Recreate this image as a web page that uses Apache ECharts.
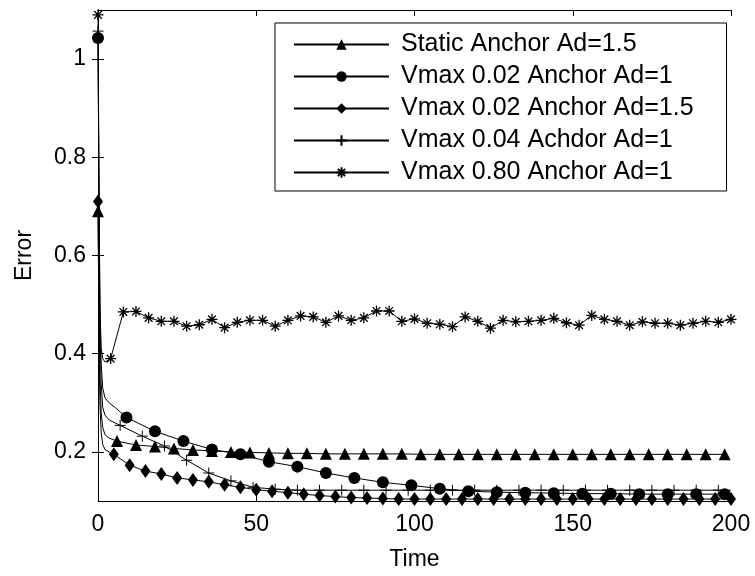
<!DOCTYPE html>
<html><head><meta charset="utf-8">
<script src="https://cdn.jsdelivr.net/npm/echarts@6/dist/echarts.min.js"></script>
<style>html,body{margin:0;padding:0;background:#fff}#c{width:755px;height:576px}</style>
</head><body><div id="c"></div>
<script>
const seriesNames = ['Static Anchor Ad=1.5','Vmax 0.02 Anchor Ad=1','Vmax 0.02 Anchor Ad=1.5','Vmax 0.04 Achdor Ad=1','Vmax 0.80 Anchor Ad=1'];
const xTicks = [0,50,100,150,200];
const yTicks = [0.2,0.4,0.6,0.8,1];

// Static Anchor Ad=1.5 (triangles)
const staticMarkT = [0,6,12,18,24,30,36,42,48,54,60,66,72,78,84,90,96,102,108,114,120,126,132,138,144,150,156,162,168,174,180,186,192,198];
const staticMarkV = [0.69,0.222,0.214,0.211,0.207,0.204,0.202,0.200,0.199,0.198,0.197,0.197,0.196,0.196,0.196,0.196,0.196,0.195,0.195,0.195,0.195,0.195,0.195,0.195,0.195,0.195,0.195,0.195,0.195,0.195,0.195,0.195,0.195,0.195];
const staticDropT = [0.3,0.6,1,1.5,2.2,3.5];
const staticDropV = [0.5,0.36,0.28,0.25,0.235,0.228];

// Vmax 0.02 Anchor Ad=1 (circles)
const v002a1MarkT = [0,9,18,27,36,45,54,63,72,81,90,99,108,117,126,135,144,153,162,171,180,189,198];
const v002a1MarkV = [1.043,0.27,0.242,0.222,0.205,0.195,0.18,0.17,0.157,0.147,0.138,0.132,0.125,0.12,0.118,0.117,0.116,0.115,0.115,0.114,0.114,0.114,0.114];
const v002a1DropT = [0.3,0.6,1,1.5,2.2,3.5,5.5];
const v002a1DropV = [0.75,0.5,0.38,0.33,0.31,0.3,0.29];

// Vmax 0.02 Anchor Ad=1.5 (diamonds)
const v002a15MarkT = [0,5,10,15,20,25,30,35,40,45,50,55,60,65,70,75,80,85,90,95,100,105,110,115,120,125,130,135,140,145,150,155,160,165,170,175,180,185,190,195,200];
const v002a15MarkV = [0.71,0.195,0.173,0.161,0.155,0.147,0.143,0.139,0.133,0.128,0.123,0.12,0.117,0.114,0.111,0.109,0.107,0.106,0.105,0.104,0.104,0.104,0.104,0.104,0.104,0.104,0.104,0.104,0.104,0.104,0.104,0.104,0.104,0.104,0.104,0.104,0.104,0.104,0.104,0.104,0.104];
const v002a15DropT = [0.3,0.6,1,1.5,2.2,3.5];
const v002a15DropV = [0.45,0.3,0.24,0.215,0.205,0.2];

// Vmax 0.04 Achdor Ad=1 (plus)
const v004MarkT = [0,7,14,21,28,35,42,49,56,63,70,77,84,91,98,105,112,119,126,133,140,147,154,161,168,175,182,189,196];
const v004MarkV = [1.057,0.254,0.232,0.212,0.183,0.157,0.141,0.128,0.124,0.122,0.122,0.122,0.122,0.122,0.122,0.122,0.122,0.122,0.122,0.122,0.122,0.122,0.122,0.122,0.122,0.122,0.122,0.122,0.122];
const v004DropT = [0.3,0.6,1,1.5,2.2,3.5,200];
const v004DropV = [0.7,0.45,0.34,0.29,0.275,0.265,0.122];

// Vmax 0.80 Anchor Ad=1 (asterisks)
const v080MarkT = [0,4,8,12,16,20,24,28,32,36,40,44,48,52,56,60,64,68,72,76,80,84,88,92,96,100,104,108,112,116,120,124,128,132,136,140,144,148,152,156,160,164,168,172,176,180,184,188,192,196,200];
const v080MarkV = [1.09,0.39,0.485,0.486,0.473,0.466,0.466,0.456,0.459,0.47,0.453,0.464,0.468,0.468,0.456,0.468,0.477,0.475,0.464,0.477,0.468,0.473,0.487,0.487,0.466,0.471,0.462,0.46,0.455,0.475,0.466,0.452,0.468,0.465,0.466,0.468,0.472,0.463,0.458,0.478,0.47,0.466,0.458,0.465,0.462,0.462,0.458,0.462,0.466,0.464,0.47];
const v080DropT = [0.3,0.6,1,1.5,2.2];
const v080DropV = [0.75,0.5,0.41,0.39,0.383];

function build(markT, markV, dropT, dropV) {
  const pts = [];
  markT.forEach((t, i) => pts.push({ value: [t, markV[i]] }));
  dropT.forEach((t, i) => pts.push({ value: [t, dropV[i]], symbol: 'none' }));
  pts.sort((a, b) => a.value[0] - b.value[0]);
  return pts;
}

const FONT = 'Liberation Sans, Arial, sans-serif';
const plusPath = 'path://M5,0L5,10M0,5L10,5';
const starPath = 'path://M5,0L5,10M0,5L10,5M1.5,1.5L8.5,8.5M8.5,1.5L1.5,8.5';

function mkSeries(name, data, symbol, size, stroke) {
  return {
    name, type: 'line', data, symbol, symbolSize: size, showAllSymbol: true,
    xAxisIndex: 0, yAxisIndex: 0,
    lineStyle: { color: '#000', width: 1 },
    itemStyle: { color: '#000', borderColor: '#000', borderWidth: stroke },
    emphasis: { disabled: true }, animation: false
  };
}

const chart = echarts.init(document.getElementById('c'));
const axisCommon = {
  axisLine: { show: true, lineStyle: { color: '#000', width: 1 } },
  axisTick: { show: true, inside: true, length: 6, lineStyle: { color: '#000' } },
  splitLine: { show: false }
};
chart.setOption({
  animation: false,
  backgroundColor: '#fff',
  grid: { left: 98, right: 24, top: 10, bottom: 73 },
  xAxis: [
    Object.assign({ type: 'value', min: 0, max: 200, interval: 50, position: 'bottom',
      axisLabel: { fontSize: 23, color: '#000', fontFamily: FONT, margin: 12, customValues: xTicks },
      name: 'Time', nameLocation: 'middle', nameGap: 47,
      nameTextStyle: { fontSize: 23, color: '#000', fontFamily: FONT } }, axisCommon),
    Object.assign({ type: 'value', min: 0, max: 200, interval: 50, position: 'top',
      axisLabel: { show: false } }, axisCommon)
  ],
  yAxis: [
    Object.assign({ type: 'value', min: 0.1, max: 1.1, position: 'left',
      axisLabel: { fontSize: 23, color: '#000', fontFamily: FONT, margin: 12, customValues: yTicks },
      name: 'Error', nameLocation: 'middle', nameGap: 62,
      nameTextStyle: { fontSize: 23, color: '#000', fontFamily: FONT } }, axisCommon,
      { axisTick: { show: true, inside: true, length: 6, lineStyle: { color: '#000' }, customValues: yTicks } }),
    Object.assign({ type: 'value', min: 0.1, max: 1.1, position: 'right',
      axisLabel: { show: false } }, axisCommon,
      { axisTick: { show: true, inside: true, length: 6, lineStyle: { color: '#000' }, customValues: yTicks } })
  ],
  legend: {
    orient: 'vertical', left: 275, top: 23,
    backgroundColor: '#fff', borderColor: '#000', borderWidth: 1,
    padding: [9, 33, 6, 18], itemWidth: 95, itemHeight: 13, itemGap: 7,
    textStyle: { fontSize: 25, color: '#000', fontFamily: FONT, padding: [0, 0, 0, 7] },
    data: seriesNames
  },
  series: [
    mkSeries(seriesNames[0], build(staticMarkT, staticMarkV, staticDropT, staticDropV), 'triangle', 12, 0),
    mkSeries(seriesNames[1], build(v002a1MarkT, v002a1MarkV, v002a1DropT, v002a1DropV), 'circle', 12, 0),
    mkSeries(seriesNames[2], build(v002a15MarkT, v002a15MarkV, v002a15DropT, v002a15DropV), 'diamond', [10, 14], 0),
    mkSeries(seriesNames[3], build(v004MarkT, v004MarkV, v004DropT, v004DropV), plusPath, 11, 1),
    mkSeries(seriesNames[4], build(v080MarkT, v080MarkV, v080DropT, v080DropV), starPath, 11, 1.3)
  ]
});
</script></body></html>
